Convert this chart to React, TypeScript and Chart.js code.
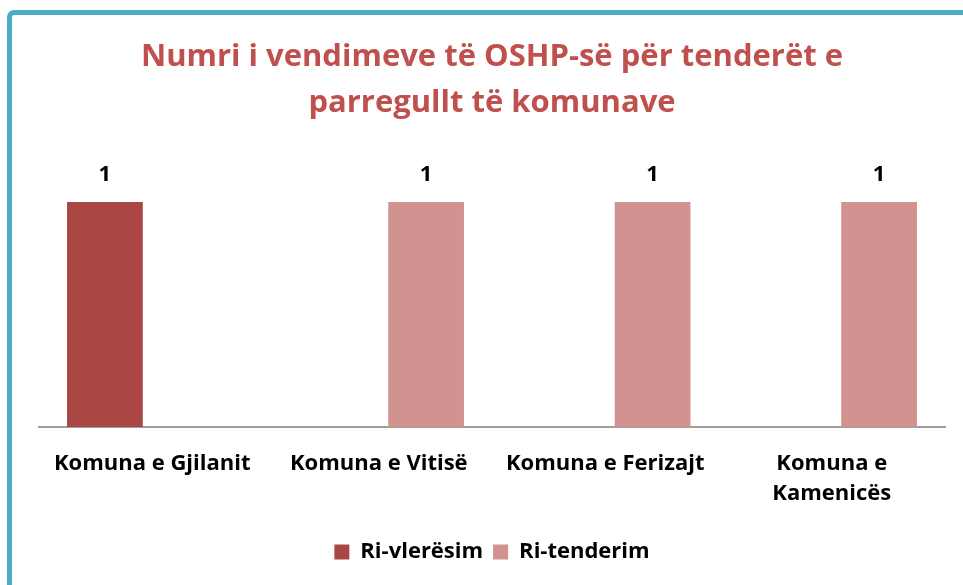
import React, { useEffect, useRef } from 'react';
import { Chart, registerables } from 'chart.js';

Chart.register(...registerables);

const titleLines = ['Numri i vendimeve të OSHP-së për tenderët e', 'parregullt të komunave'];
const categories: (string | string[])[] = [
  'Komuna e Gjilanit',
  'Komuna e Vitisë',
  'Komuna e Ferizajt',
  ['Komuna e', 'Kamenicës'],
];
const seriesNames = ['Ri-vlerësim', 'Ri-tenderim'];
const riVleresim: (number | null)[] = [1, null, null, null];
const riTenderim: (number | null)[] = [null, 1, 1, 1];

const FONT = '"Open Sans", Lato, sans-serif';

const valueLabels = {
  id: 'valueLabels',
  afterDatasetsDraw(chart: any) {
    const ctx = chart.ctx;
    ctx.save();
    ctx.font = `bold 22px ${FONT}`;
    ctx.fillStyle = '#000000';
    ctx.textAlign = 'center';
    ctx.textBaseline = 'middle';
    chart.data.datasets.forEach((ds: any, i: number) => {
      const meta = chart.getDatasetMeta(i);
      meta.data.forEach((el: any, j: number) => {
        const v = ds.data[j];
        if (v === null || v === undefined) return;
        ctx.fillText(String(v), el.x, el.y - 27);
      });
    });
    ctx.restore();
  },
};

export default function App() {
  const canvasRef = useRef<HTMLCanvasElement | null>(null);

  useEffect(() => {
    document.body.style.margin = '0';
    const canvas = canvasRef.current;
    if (!canvas) return;
    const chart = new Chart(canvas, {
      type: 'bar',
      data: {
        labels: categories,
        datasets: [
          {
            label: seriesNames[0],
            data: riVleresim,
            backgroundColor: '#AA4643',
            borderWidth: 0,
            categoryPercentage: 0.836,
            barPercentage: 0.8,
          },
          {
            label: seriesNames[1],
            data: riTenderim,
            backgroundColor: '#D29290',
            borderWidth: 0,
            categoryPercentage: 0.836,
            barPercentage: 0.8,
          },
        ],
      },
      options: {
        animation: false,
        responsive: false,
        maintainAspectRatio: false,
        layout: { padding: { left: 39, right: 18, top: 0, bottom: 12 } },
        plugins: {
          title: {
            display: true,
            text: titleLines,
            color: '#C0504D',
            font: { family: FONT, size: 31, weight: 'bold', lineHeight: 46 / 31 },
            padding: { top: 34, bottom: 31 },
          },
          legend: {
            display: true,
            position: 'bottom',
            labels: {
              color: '#000000',
              font: { family: FONT, size: 22, weight: 'bold' },
              boxWidth: 15,
              boxHeight: 15,
              padding: 10,
            },
          },
          tooltip: { enabled: false },
        },
        scales: {
          x: {
            grid: { display: false, drawTicks: false },
            border: { display: true, color: '#9E9E9E', width: 2 },
            ticks: {
              color: '#000000',
              font: { family: FONT, size: 22, weight: 'bold', lineHeight: 30 / 22 },
              padding: 22,
              maxRotation: 0,
              autoSkip: false,
            },
          },
          y: {
            display: false,
            min: 0,
            max: 1.2,
          },
        },
      },
      plugins: [valueLabels],
    });
    return () => chart.destroy();
  }, []);

  return (
    <div
      style={{
        position: 'fixed',
        left: 0,
        top: 0,
        width: 963,
        height: 585,
        overflow: 'hidden',
        background: '#ffffff',
      }}
    >
      <div
        style={{
          position: 'absolute',
          left: 7,
          top: 10,
          width: 2000,
          height: 2000,
          borderLeft: '5px solid #4BACC6',
          borderTop: '5px solid #4BACC6',
          borderTopLeftRadius: 7,
        }}
      />
      <canvas
        ref={canvasRef}
        width={963}
        height={585}
        style={{ position: 'absolute', left: 0, top: 0, width: 963, height: 585 }}
      />
    </div>
  );
}
